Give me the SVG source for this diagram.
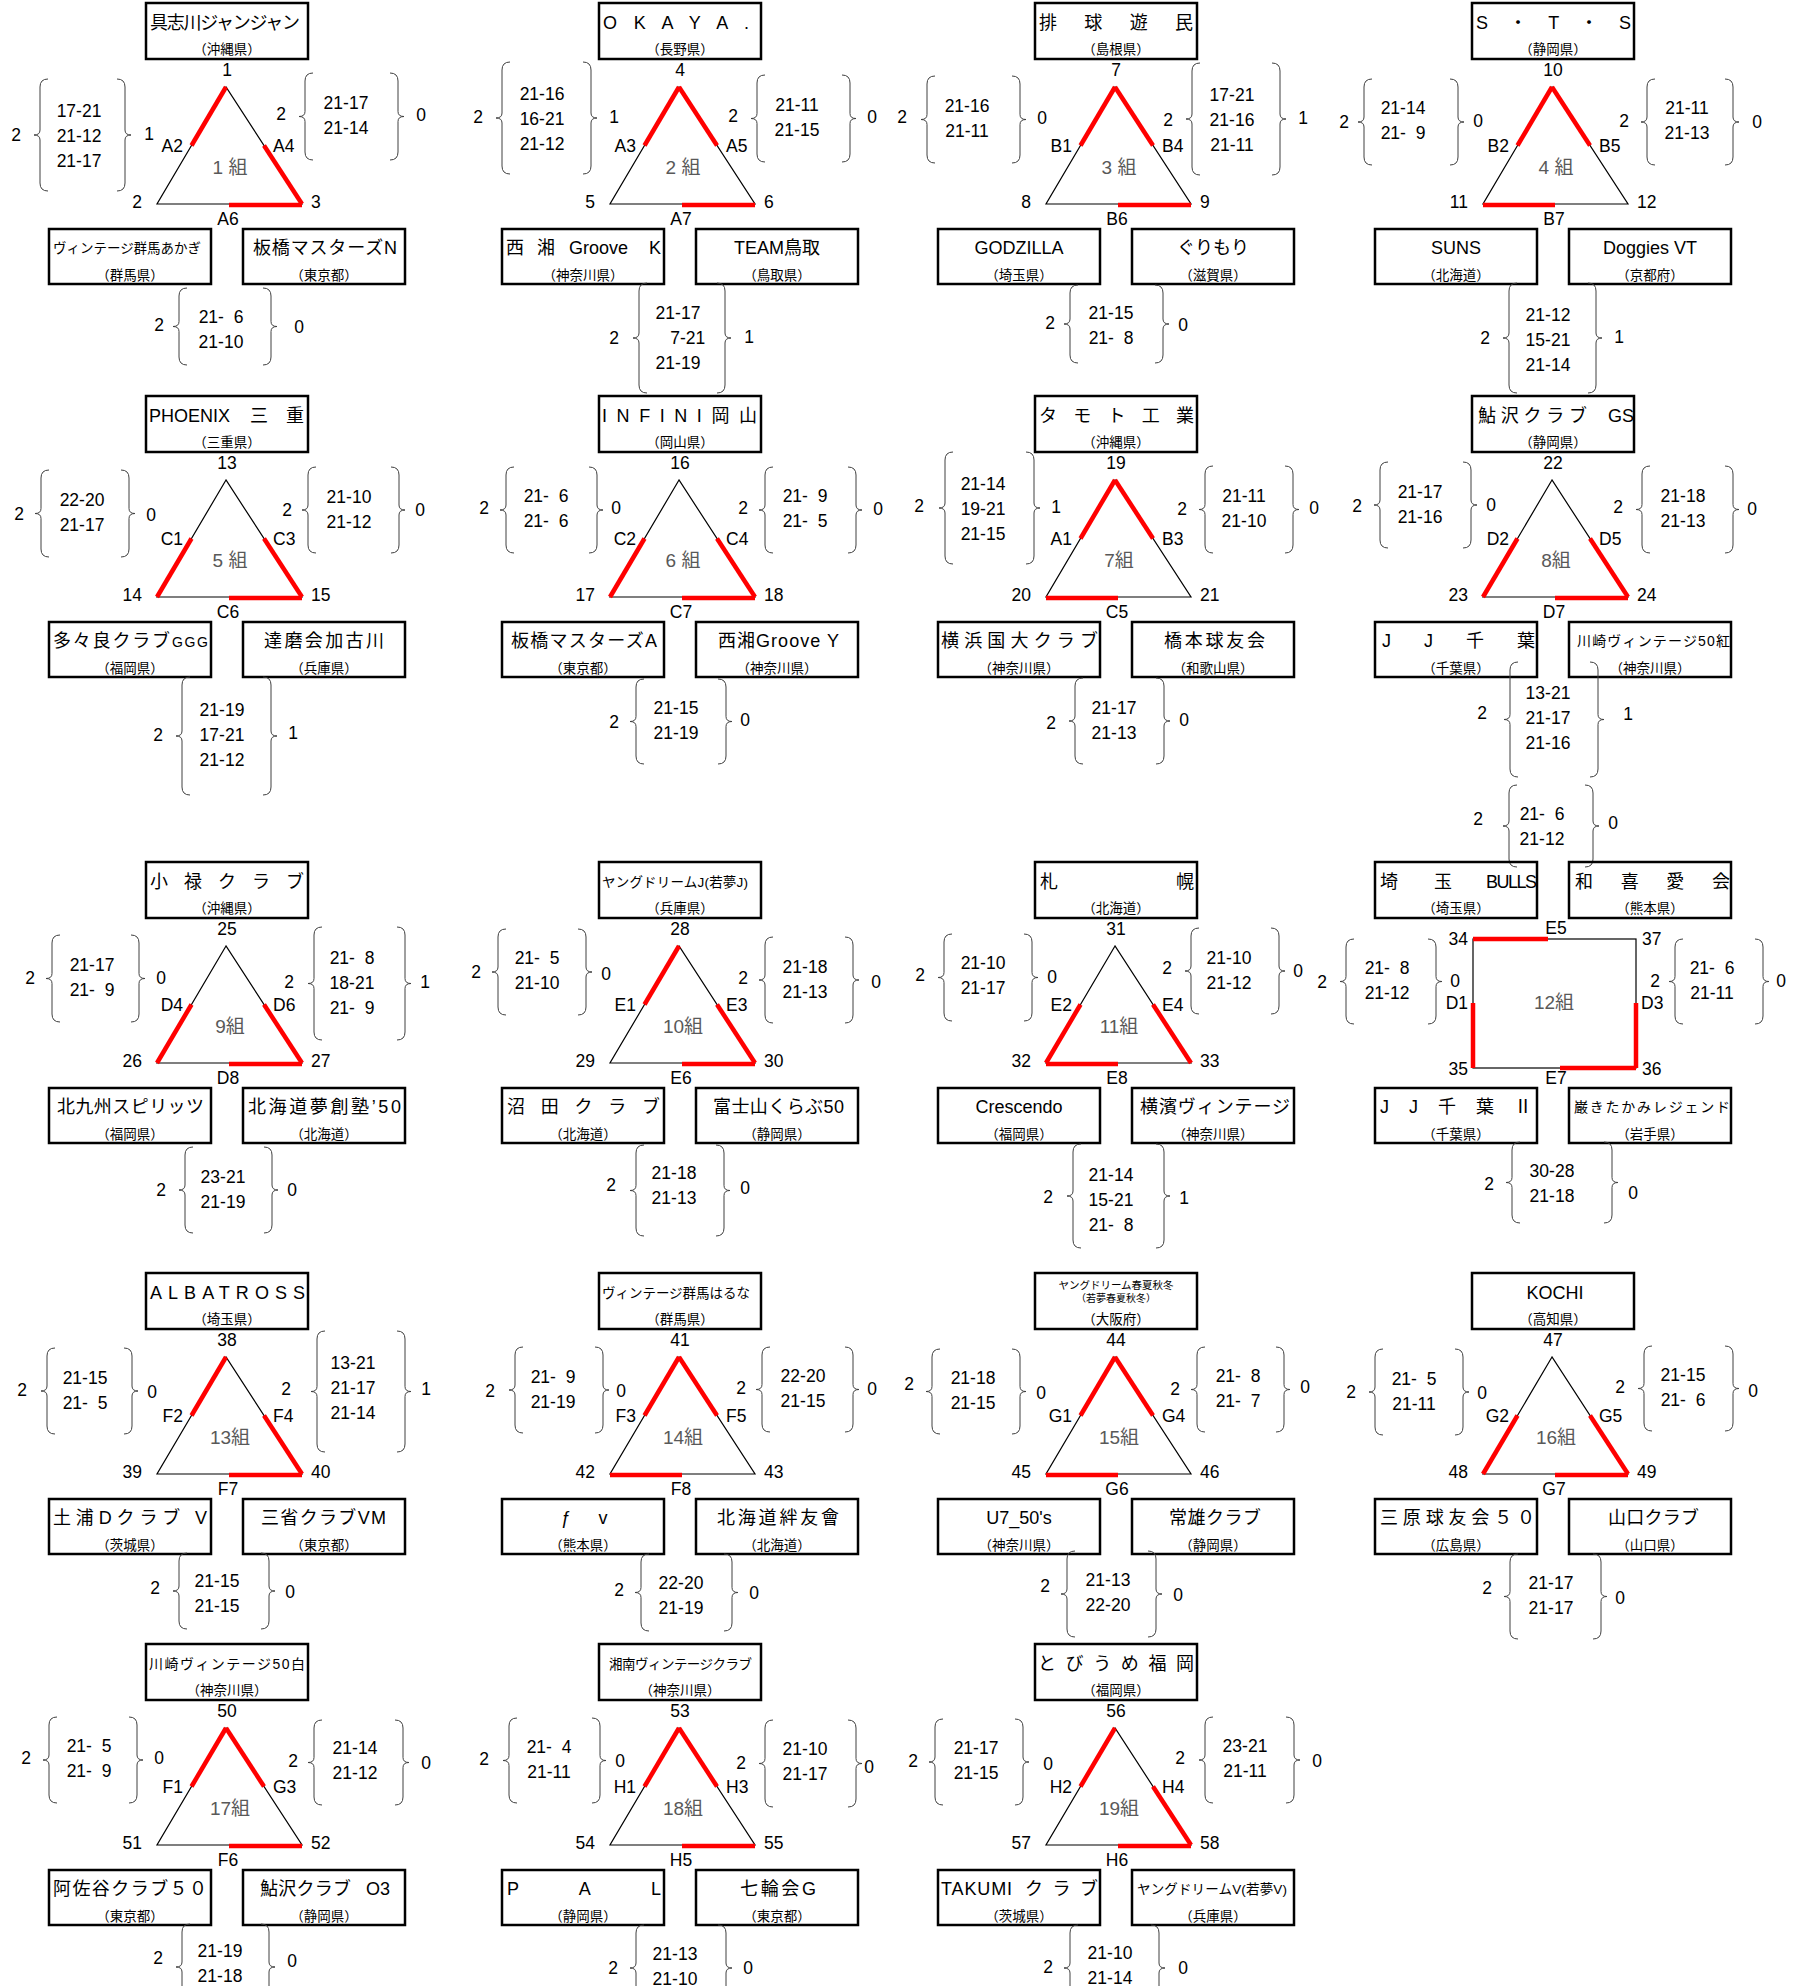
<svg xmlns="http://www.w3.org/2000/svg" xmlns:xlink="http://www.w3.org/1999/xlink" width="1797" height="1986" viewBox="0 0 1797 1986">
<style>
text{font-family:"Liberation Sans","Noto Sans CJK JP",sans-serif;fill:#000}
.nm{font-size:18px}
.sm{font-size:13.5px}
.c{text-anchor:middle}
.pf{font-size:13.5px;text-anchor:middle}
.n{font-size:17.5px;text-anchor:middle}
.e{text-anchor:end}
.s{text-anchor:start}
.gl{font-size:19px;fill:#595959;text-anchor:middle}
.bx{fill:none;stroke:#000;stroke-width:2.5}
.tri{fill:none;stroke:#000;stroke-width:1.2}
.red{fill:none;stroke:#f00;stroke-width:4.5}
.br{fill:none;stroke:#404040;stroke-width:1}
</style>
<defs>
<path id="tri" class="tri" d="M80 84L11 201H156Z"/>
<path id="rTL" class="red" d="M80 84L45.5 142.5"/>
<path id="rBL" class="red" d="M45.5 142.5L11 201"/>
<path id="rTR" class="red" d="M80 84L118 142.5"/>
<path id="rBR" class="red" d="M118 142.5L156 201"/>
<path id="rBl" class="red" d="M11 202H83"/>
<path id="rBr" class="red" d="M83 202H156"/>
</defs>
<rect width="1797" height="1986" fill="#fff"/>

<!-- Pool 1 -->
<g id="pool1" transform="translate(146,3)">
<g id="team1"><rect class="bx" width="162" height="56"/><text class="nm" x="4" y="26" textLength="150">具志川ジャンジャン</text><text class="pf" x="81" y="51">（沖縄県）</text></g>
<g id="team2"><rect class="bx" x="-97" y="226" width="162" height="55"/><text class="sm" x="-93" y="250" textLength="148">ヴィンテージ群馬あかぎ</text><text class="pf" x="-16" y="277">（群馬県）</text></g>
<g id="team3"><rect class="bx" x="97" y="226" width="162" height="55"/><text class="nm" x="107" y="251" textLength="144">板橋マスターズN</text><text class="pf" x="178" y="277">（東京都）</text></g>
<g class="edges"><use href="#tri"/><use href="#rTL"/><use href="#rBR"/><use href="#rBr"/></g>
<text class="n" x="81" y="73">1</text><text class="n e" x="-4" y="205">2</text><text class="n s" x="165" y="205">3</text>
<text class="n e" x="37" y="149">A2</text><text class="n s" x="127" y="149">A4</text><text class="n" x="82" y="222">A6</text>
<text class="gl" x="84" y="171">1 組</text>
<path class="br" d="M-98 76q-8 0-8 8v43q0 5-6 5q6 0 6 5v43q0 8 8 8M-29 76q8 0 8 8v43q0 5 6 5q-6 0-6 5v43q0 8-8 8"/>
<text class="n" x="-67" y="114">17-21</text><text class="n" x="-67" y="139">21-12</text><text class="n" x="-67" y="164">21-17</text>
<text class="n" x="-130" y="138">2</text><text class="n" x="3" y="137">1</text>
<path class="br" d="M167 70q-8 0-8 8v30.5q0 5-6 5q6 0 6 5v30.5q0 8 8 8M244 70q8 0 8 8v30.5q0 5 6 5q-6 0-6 5v30.5q0 8-8 8"/>
<text class="n" x="200" y="106">21-17</text><text class="n" x="200" y="131">21-14</text>
<text class="n" x="135" y="117">2</text><text class="n" x="275" y="118">0</text>
<path class="br" d="M41 285q-8 0-8 8v25.5q0 5-6 5q6 0 6 5v25.5q0 8 8 8M117 285q8 0 8 8v25.5q0 5 6 5q-6 0-6 5v25.5q0 8-8 8"/>
<text class="n" x="75" y="320">21-<tspan dx="9.7">6</tspan></text><text class="n" x="75" y="345">21-10</text>
<text class="n" x="13" y="328">2</text><text class="n" x="153" y="330">0</text>
</g>

<!-- Pool 2 -->
<g id="pool2" transform="translate(599,3)">
<g id="team4"><rect class="bx" width="162" height="56"/><text class="nm" x="4" y="26" textLength="146">O K A Y A .</text><text class="pf" x="81" y="51">（長野県）</text></g>
<g id="team5"><rect class="bx" x="-97" y="226" width="162" height="55"/><text class="nm" x="-93" y="251">西</text><text class="nm" x="-62" y="251">湘</text><text class="nm" x="-30" y="251">Groove</text><text class="nm" x="50" y="251">K</text><text class="pf" x="-16" y="277">（神奈川県）</text></g>
<g id="team6"><rect class="bx" x="97" y="226" width="162" height="55"/><text class="nm c" x="178" y="251">TEAM鳥取</text><text class="pf" x="178" y="277">（鳥取県）</text></g>
<g class="edges"><use href="#tri"/><use href="#rTL"/><use href="#rTR"/><use href="#rBr"/></g>
<text class="n" x="81" y="73">4</text><text class="n e" x="-4" y="205">5</text><text class="n s" x="165" y="205">6</text>
<text class="n e" x="37" y="149">A3</text><text class="n s" x="127" y="149">A5</text><text class="n" x="82" y="222">A7</text>
<text class="gl" x="84" y="171">2 組</text>
<path class="br" d="M-89 59q-8 0-8 8v43q0 5-6 5q6 0 6 5v43q0 8 8 8M-16 59q8 0 8 8v43q0 5 6 5q-6 0-6 5v43q0 8-8 8"/>
<text class="n" x="-57" y="97">21-16</text><text class="n" x="-57" y="122">16-21</text><text class="n" x="-57" y="147">21-12</text>
<text class="n" x="-121" y="120">2</text><text class="n" x="15" y="120">1</text>
<path class="br" d="M166 72q-8 0-8 8v30.5q0 5-6 5q6 0 6 5v30.5q0 8 8 8M243 72q8 0 8 8v30.5q0 5 6 5q-6 0-6 5v30.5q0 8-8 8"/>
<text class="n" x="198" y="108">21-11</text><text class="n" x="198" y="133">21-15</text>
<text class="n" x="134" y="119">2</text><text class="n" x="273" y="120">0</text>
<path class="br" d="M48 280q-8 0-8 8v42q0 5-6 5q6 0 6 5v42q0 8 8 8M118 280q8 0 8 8v42q0 5 6 5q-6 0-6 5v42q0 8-8 8"/>
<text class="n" x="79" y="316">21-17</text><text class="n" x="79" y="341"><tspan dx="9.7">7</tspan>-21</text><text class="n" x="79" y="366">21-19</text>
<text class="n" x="15" y="341">2</text><text class="n" x="150" y="340">1</text>
</g>

<!-- Pool 3 -->
<g id="pool3" transform="translate(1035,3)">
<g id="team7"><rect class="bx" width="162" height="56"/><text class="nm" x="4" y="26" textLength="154">排球遊民</text><text class="pf" x="81" y="51">（島根県）</text></g>
<g id="team8"><rect class="bx" x="-97" y="226" width="162" height="55"/><text class="nm c" x="-16" y="251">GODZILLA</text><text class="pf" x="-16" y="277">（埼玉県）</text></g>
<g id="team9"><rect class="bx" x="97" y="226" width="162" height="55"/><text class="nm c" x="178" y="251">ぐりもり</text><text class="pf" x="178" y="277">（滋賀県）</text></g>
<g class="edges"><use href="#tri"/><use href="#rTL"/><use href="#rTR"/><use href="#rBr"/></g>
<text class="n" x="81" y="73">7</text><text class="n e" x="-4" y="205">8</text><text class="n s" x="165" y="205">9</text>
<text class="n e" x="37" y="149">B1</text><text class="n s" x="127" y="149">B4</text><text class="n" x="82" y="222">B6</text>
<text class="gl" x="84" y="171">3 組</text>
<path class="br" d="M-100 73q-8 0-8 8v30.5q0 5-6 5q6 0 6 5v30.5q0 8 8 8M-23 73q8 0 8 8v30.5q0 5 6 5q-6 0-6 5v30.5q0 8-8 8"/>
<text class="n" x="-68" y="109">21-16</text><text class="n" x="-68" y="134">21-11</text>
<text class="n" x="-133" y="120">2</text><text class="n" x="7" y="121">0</text>
<path class="br" d="M165 60q-8 0-8 8v43q0 5-6 5q6 0 6 5v43q0 8 8 8M237 60q8 0 8 8v43q0 5 6 5q-6 0-6 5v43q0 8-8 8"/>
<text class="n" x="197" y="98">17-21</text><text class="n" x="197" y="123">21-16</text><text class="n" x="197" y="148">21-11</text>
<text class="n" x="133" y="123">2</text><text class="n" x="268" y="121">1</text>
<path class="br" d="M43 282q-8 0-8 8v26q0 5-6 5q6 0 6 5v26q0 8 8 8M120 282q8 0 8 8v26q0 5 6 5q-6 0-6 5v26q0 8-8 8"/>
<text class="n" x="76" y="316">21-15</text><text class="n" x="76" y="341">21-<tspan dx="9.7">8</tspan></text>
<text class="n" x="15" y="326">2</text><text class="n" x="148" y="328">0</text>
</g>

<!-- Pool 4 -->
<g id="pool4" transform="translate(1472,3)">
<g id="team10"><rect class="bx" width="162" height="56"/><text class="nm" x="4" y="26" textLength="155">S　・　T　・　S</text><text class="pf" x="81" y="51">（静岡県）</text></g>
<g id="team11"><rect class="bx" x="-97" y="226" width="162" height="55"/><text class="nm c" x="-16" y="251">SUNS</text><text class="pf" x="-16" y="277">（北海道）</text></g>
<g id="team12"><rect class="bx" x="97" y="226" width="162" height="55"/><text class="nm c" x="178" y="251">Doggies VT</text><text class="pf" x="178" y="277">（京都府）</text></g>
<g class="edges"><use href="#tri"/><use href="#rTL"/><use href="#rTR"/><use href="#rBl"/></g>
<text class="n" x="81" y="73">10</text><text class="n e" x="-4" y="205">11</text><text class="n s" x="165" y="205">12</text>
<text class="n e" x="37" y="149">B2</text><text class="n s" x="127" y="149">B5</text><text class="n" x="82" y="222">B7</text>
<text class="gl" x="84" y="171">4 組</text>
<path class="br" d="M-100 76q-8 0-8 8v30q0 5-6 5q6 0 6 5v30q0 8 8 8M-22 76q8 0 8 8v30q0 5 6 5q-6 0-6 5v30q0 8-8 8"/>
<text class="n" x="-69" y="111">21-14</text><text class="n" x="-69" y="136">21-<tspan dx="9.7">9</tspan></text>
<text class="n" x="-128" y="125">2</text><text class="n" x="6" y="124">0</text>
<path class="br" d="M183 76q-8 0-8 8v30q0 5-6 5q6 0 6 5v30q0 8 8 8M253 76q8 0 8 8v30q0 5 6 5q-6 0-6 5v30q0 8-8 8"/>
<text class="n" x="215" y="111">21-11</text><text class="n" x="215" y="136">21-13</text>
<text class="n" x="152" y="124">2</text><text class="n" x="285" y="125">0</text>
<path class="br" d="M45 280q-8 0-8 8v42q0 5-6 5q6 0 6 5v42q0 8 8 8M116 280q8 0 8 8v42q0 5 6 5q-6 0-6 5v42q0 8-8 8"/>
<text class="n" x="76" y="318">21-12</text><text class="n" x="76" y="343">15-21</text><text class="n" x="76" y="368">21-14</text>
<text class="n" x="13" y="341">2</text><text class="n" x="147" y="340">1</text>
</g>

<!-- Pool 5 -->
<g id="pool5" transform="translate(146,396)">
<g id="team13"><rect class="bx" width="162" height="56"/><text class="nm" x="3" y="26">PHOENIX</text><text class="nm" x="104" y="26">三</text><text class="nm" x="140" y="26">重</text><text class="pf" x="81" y="51">（三重県）</text></g>
<g id="team14"><rect class="bx" x="-97" y="226" width="162" height="55"/><text class="nm" x="-93" y="251" textLength="117">多々良クラブ</text><text class="nm" x="26" y="251" style="font-size:14px" textLength="36">GGG</text><text class="pf" x="-16" y="277">（福岡県）</text></g>
<g id="team15"><rect class="bx" x="97" y="226" width="162" height="55"/><text class="nm" x="118" y="251" textLength="120">達磨会加古川</text><text class="pf" x="178" y="277">（兵庫県）</text></g>
<g class="edges"><use href="#tri"/><use href="#rBL"/><use href="#rBR"/><use href="#rBr"/></g>
<text class="n" x="81" y="73">13</text><text class="n e" x="-4" y="205">14</text><text class="n s" x="165" y="205">15</text>
<text class="n e" x="37" y="149">C1</text><text class="n s" x="127" y="149">C3</text><text class="n" x="82" y="222">C6</text>
<text class="gl" x="84" y="171">5 組</text>
<path class="br" d="M-97 74q-8 0-8 8v30.5q0 5-6 5q6 0 6 5v30.5q0 8 8 8M-25 74q8 0 8 8v30.5q0 5 6 5q-6 0-6 5v30.5q0 8-8 8"/>
<text class="n" x="-64" y="110">22-20</text><text class="n" x="-64" y="135">21-17</text>
<text class="n" x="-127" y="124">2</text><text class="n" x="5" y="125">0</text>
<path class="br" d="M170 71q-8 0-8 8v30q0 5-6 5q6 0 6 5v30q0 8 8 8M245 71q8 0 8 8v30q0 5 6 5q-6 0-6 5v30q0 8-8 8"/>
<text class="n" x="203" y="107">21-10</text><text class="n" x="203" y="132">21-12</text>
<text class="n" x="141" y="120">2</text><text class="n" x="274" y="120">0</text>
<path class="br" d="M44 281q-8 0-8 8v46q0 5-6 5q6 0 6 5v46q0 8 8 8M117 281q8 0 8 8v46q0 5 6 5q-6 0-6 5v46q0 8-8 8"/>
<text class="n" x="76" y="320">21-19</text><text class="n" x="76" y="345">17-21</text><text class="n" x="76" y="370">21-12</text>
<text class="n" x="12" y="345">2</text><text class="n" x="147" y="343">1</text>
</g>

<!-- Pool 6 -->
<g id="pool6" transform="translate(599,396)">
<g id="team16"><rect class="bx" width="162" height="56"/><text class="nm" x="3" y="26" textLength="155">INFINI岡山</text><text class="pf" x="81" y="51">（岡山県）</text></g>
<g id="team17"><rect class="bx" x="-97" y="226" width="162" height="55"/><text class="nm" x="-88" y="251" textLength="146">板橋マスターズA</text><text class="pf" x="-16" y="277">（東京都）</text></g>
<g id="team18"><rect class="bx" x="97" y="226" width="162" height="55"/><text class="nm" x="119" y="251" textLength="121">西湘Groove Y</text><text class="pf" x="178" y="277">（神奈川県）</text></g>
<g class="edges"><use href="#tri"/><use href="#rBL"/><use href="#rBR"/><use href="#rBr"/></g>
<text class="n" x="81" y="73">16</text><text class="n e" x="-4" y="205">17</text><text class="n s" x="165" y="205">18</text>
<text class="n e" x="37" y="149">C2</text><text class="n s" x="127" y="149">C4</text><text class="n" x="82" y="222">C7</text>
<text class="gl" x="84" y="171">6 組</text>
<path class="br" d="M-85 71q-8 0-8 8v30q0 5-6 5q6 0 6 5v30q0 8 8 8M-10 71q8 0 8 8v30q0 5 6 5q-6 0-6 5v30q0 8-8 8"/>
<text class="n" x="-53" y="106">21-<tspan dx="9.7">6</tspan></text><text class="n" x="-53" y="131">21-<tspan dx="9.7">6</tspan></text>
<text class="n" x="-115" y="118">2</text><text class="n" x="17" y="118">0</text>
<path class="br" d="M174 71q-8 0-8 8v30q0 5-6 5q6 0 6 5v30q0 8 8 8M249 71q8 0 8 8v30q0 5 6 5q-6 0-6 5v30q0 8-8 8"/>
<text class="n" x="206" y="106">21-<tspan dx="9.7">9</tspan></text><text class="n" x="206" y="131">21-<tspan dx="9.7">5</tspan></text>
<text class="n" x="144" y="118">2</text><text class="n" x="279" y="119">0</text>
<path class="br" d="M45 283q-8 0-8 8v29.5q0 5-6 5q6 0 6 5v29.5q0 8 8 8M119 283q8 0 8 8v29.5q0 5 6 5q-6 0-6 5v29.5q0 8-8 8"/>
<text class="n" x="77" y="318">21-15</text><text class="n" x="77" y="343">21-19</text>
<text class="n" x="15" y="332">2</text><text class="n" x="146" y="330">0</text>
</g>

<!-- Pool 7 -->
<g id="pool7" transform="translate(1035,396)">
<g id="team19"><rect class="bx" width="162" height="56"/><text class="nm" x="4" y="26" textLength="155">タモト工業</text><text class="pf" x="81" y="51">（沖縄県）</text></g>
<g id="team20"><rect class="bx" x="-97" y="226" width="162" height="55"/><text class="nm" x="-94" y="251" textLength="157">横浜国大クラブ</text><text class="pf" x="-16" y="277">（神奈川県）</text></g>
<g id="team21"><rect class="bx" x="97" y="226" width="162" height="55"/><text class="nm" x="129" y="251" textLength="101">橋本球友会</text><text class="pf" x="178" y="277">（和歌山県）</text></g>
<g class="edges"><use href="#tri"/><use href="#rTL"/><use href="#rTR"/><use href="#rBl"/></g>
<text class="n" x="81" y="73">19</text><text class="n e" x="-4" y="205">20</text><text class="n s" x="165" y="205">21</text>
<text class="n e" x="37" y="149">A1</text><text class="n s" x="127" y="149">B3</text><text class="n" x="82" y="222">C5</text>
<text class="gl" x="84" y="171">7組</text>
<path class="br" d="M-82 56q-8 0-8 8v43q0 5-6 5q6 0 6 5v43q0 8 8 8M-9 56q8 0 8 8v43q0 5 6 5q-6 0-6 5v43q0 8-8 8"/>
<text class="n" x="-52" y="94">21-14</text><text class="n" x="-52" y="119">19-21</text><text class="n" x="-52" y="144">21-15</text>
<text class="n" x="-116" y="116">2</text><text class="n" x="21" y="117">1</text>
<path class="br" d="M178 70q-8 0-8 8v30.5q0 5-6 5q6 0 6 5v30.5q0 8 8 8M250 70q8 0 8 8v30.5q0 5 6 5q-6 0-6 5v30.5q0 8-8 8"/>
<text class="n" x="209" y="106">21-11</text><text class="n" x="209" y="131">21-10</text>
<text class="n" x="147" y="119">2</text><text class="n" x="279" y="118">0</text>
<path class="br" d="M48 282q-8 0-8 8v30q0 5-6 5q6 0 6 5v30q0 8 8 8M121 282q8 0 8 8v30q0 5 6 5q-6 0-6 5v30q0 8-8 8"/>
<text class="n" x="79" y="318">21-17</text><text class="n" x="79" y="343">21-13</text>
<text class="n" x="16" y="333">2</text><text class="n" x="149" y="330">0</text>
</g>

<!-- Pool 8 -->
<g id="pool8" transform="translate(1472,396)">
<g id="team22"><rect class="bx" width="162" height="56"/><text class="nm" x="6" y="26" textLength="109">鮎沢クラブ</text><text class="nm" x="136" y="26">GS</text><text class="pf" x="81" y="51">（静岡県）</text></g>
<g id="team23"><rect class="bx" x="-97" y="226" width="162" height="55"/><text class="nm" x="-90" y="251" textLength="153">J J 千 葉</text><text class="pf" x="-16" y="277">（千葉県）</text></g>
<g id="team24"><rect class="bx" x="97" y="226" width="162" height="55"/><text class="nm" x="105" y="250" style="font-size:14px" textLength="153">川崎ヴィンテージ50紅</text><text class="pf" x="178" y="277">（神奈川県）</text></g>
<g class="edges"><use href="#tri"/><use href="#rBL"/><use href="#rBR"/><use href="#rBr"/></g>
<text class="n" x="81" y="73">22</text><text class="n e" x="-4" y="205">23</text><text class="n s" x="165" y="205">24</text>
<text class="n e" x="37" y="149">D2</text><text class="n s" x="127" y="149">D5</text><text class="n" x="82" y="222">D7</text>
<text class="gl" x="84" y="171">8組</text>
<path class="br" d="M-84 66q-8 0-8 8v30q0 5-6 5q6 0 6 5v30q0 8 8 8M-9 66q8 0 8 8v30q0 5 6 5q-6 0-6 5v30q0 8-8 8"/>
<text class="n" x="-52" y="102">21-17</text><text class="n" x="-52" y="127">21-16</text>
<text class="n" x="-115" y="116">2</text><text class="n" x="19" y="115">0</text>
<path class="br" d="M178 70q-8 0-8 8v30.5q0 5-6 5q6 0 6 5v30.5q0 8 8 8M253 70q8 0 8 8v30.5q0 5 6 5q-6 0-6 5v30.5q0 8-8 8"/>
<text class="n" x="211" y="106">21-18</text><text class="n" x="211" y="131">21-13</text>
<text class="n" x="146" y="117">2</text><text class="n" x="280" y="119">0</text>
<path class="br" d="M46 266q-8 0-8 8v44.5q0 5-6 5q6 0 6 5v44.5q0 8 8 8M118 266q8 0 8 8v44.5q0 5 6 5q-6 0-6 5v44.5q0 8-8 8"/>
<text class="n" x="76" y="303">13-21</text><text class="n" x="76" y="328">21-17</text><text class="n" x="76" y="353">21-16</text>
<text class="n" x="10" y="323">2</text><text class="n" x="156" y="324">1</text>
<path class="br" d="M45 389q-8 0-8 8v28q0 5-6 5q6 0 6 5v28q0 8 8 8M113 389q8 0 8 8v28q0 5 6 5q-6 0-6 5v28q0 8-8 8"/>
<text class="n" x="70" y="424">21-<tspan dx="9.7">6</tspan></text><text class="n" x="70" y="449">21-12</text>
<text class="n" x="6" y="429">2</text><text class="n" x="141" y="433">0</text>
</g>

<!-- Pool 9 -->
<g id="pool9" transform="translate(146,862)">
<g id="team25"><rect class="bx" width="162" height="56"/><text class="nm" x="4" y="26" textLength="154">小禄クラブ</text><text class="pf" x="81" y="51">（沖縄県）</text></g>
<g id="team26"><rect class="bx" x="-97" y="226" width="162" height="55"/><text class="nm" x="-89" y="251" textLength="147">北九州スピリッツ</text><text class="pf" x="-16" y="277">（福岡県）</text></g>
<g id="team27"><rect class="bx" x="97" y="226" width="162" height="55"/><text class="nm" x="102" y="251" textLength="153">北海道夢創塾’50</text><text class="pf" x="178" y="277">（北海道）</text></g>
<g class="edges"><use href="#tri"/><use href="#rBL"/><use href="#rBR"/><use href="#rBr"/></g>
<text class="n" x="81" y="73">25</text><text class="n e" x="-4" y="205">26</text><text class="n s" x="165" y="205">27</text>
<text class="n e" x="37" y="149">D4</text><text class="n s" x="127" y="149">D6</text><text class="n" x="82" y="222">D8</text>
<text class="gl" x="84" y="171">9組</text>
<path class="br" d="M-86 73q-8 0-8 8v30.5q0 5-6 5q6 0 6 5v30.5q0 8 8 8M-15 73q8 0 8 8v30.5q0 5 6 5q-6 0-6 5v30.5q0 8-8 8"/>
<text class="n" x="-54" y="109">21-17</text><text class="n" x="-54" y="134">21-<tspan dx="9.7">9</tspan></text>
<text class="n" x="-116" y="122">2</text><text class="n" x="15" y="122">0</text>
<path class="br" d="M176 65q-8 0-8 8v43.5q0 5-6 5q6 0 6 5v43.5q0 8 8 8M251 65q8 0 8 8v43.5q0 5 6 5q-6 0-6 5v43.5q0 8-8 8"/>
<text class="n" x="206" y="102">21-<tspan dx="9.7">8</tspan></text><text class="n" x="206" y="127">18-21</text><text class="n" x="206" y="152">21-<tspan dx="9.7">9</tspan></text>
<text class="n" x="143" y="126">2</text><text class="n" x="279" y="126">1</text>
<path class="br" d="M47 285q-8 0-8 8v30q0 5-6 5q6 0 6 5v30q0 8 8 8M118 285q8 0 8 8v30q0 5 6 5q-6 0-6 5v30q0 8-8 8"/>
<text class="n" x="77" y="321">23-21</text><text class="n" x="77" y="346">21-19</text>
<text class="n" x="15" y="334">2</text><text class="n" x="146" y="334">0</text>
</g>

<!-- Pool 10 -->
<g id="pool10" transform="translate(599,862)">
<g id="team28"><rect class="bx" width="162" height="56"/><text class="sm" x="3" y="25" textLength="146">ヤングドリームJ(若夢J)</text><text class="pf" x="81" y="51">（兵庫県）</text></g>
<g id="team29"><rect class="bx" x="-97" y="226" width="162" height="55"/><text class="nm" x="-92" y="251" textLength="153">沼田クラブ</text><text class="pf" x="-16" y="277">（北海道）</text></g>
<g id="team30"><rect class="bx" x="97" y="226" width="162" height="55"/><text class="nm" x="114" y="251" textLength="131">富士山くらぶ50</text><text class="pf" x="178" y="277">（静岡県）</text></g>
<g class="edges"><use href="#tri"/><use href="#rTL"/><use href="#rBR"/><use href="#rBr"/></g>
<text class="n" x="81" y="73">28</text><text class="n e" x="-4" y="205">29</text><text class="n s" x="165" y="205">30</text>
<text class="n e" x="37" y="149">E1</text><text class="n s" x="127" y="149">E3</text><text class="n" x="82" y="222">E6</text>
<text class="gl" x="84" y="171">10組</text>
<path class="br" d="M-93 67q-8 0-8 8v30q0 5-6 5q6 0 6 5v30q0 8 8 8M-21 67q8 0 8 8v30q0 5 6 5q-6 0-6 5v30q0 8-8 8"/>
<text class="n" x="-62" y="102">21-<tspan dx="9.7">5</tspan></text><text class="n" x="-62" y="127">21-10</text>
<text class="n" x="-123" y="116">2</text><text class="n" x="7" y="118">0</text>
<path class="br" d="M174 75q-8 0-8 8v30q0 5-6 5q6 0 6 5v30q0 8 8 8M246 75q8 0 8 8v30q0 5 6 5q-6 0-6 5v30q0 8-8 8"/>
<text class="n" x="206" y="111">21-18</text><text class="n" x="206" y="136">21-13</text>
<text class="n" x="144" y="122">2</text><text class="n" x="277" y="126">0</text>
<path class="br" d="M45 283q-8 0-8 8v32.5q0 5-6 5q6 0 6 5v32.5q0 8 8 8M117 283q8 0 8 8v32.5q0 5 6 5q-6 0-6 5v32.5q0 8-8 8"/>
<text class="n" x="75" y="317">21-18</text><text class="n" x="75" y="342">21-13</text>
<text class="n" x="12" y="329">2</text><text class="n" x="146" y="332">0</text>
</g>

<!-- Pool 11 -->
<g id="pool11" transform="translate(1035,862)">
<g id="team31"><rect class="bx" width="162" height="56"/><text class="nm" x="5" y="26">札</text><text class="nm" x="141" y="26">幌</text><text class="pf" x="81" y="51">（北海道）</text></g>
<g id="team32"><rect class="bx" x="-97" y="226" width="162" height="55"/><text class="nm c" x="-16" y="251">Crescendo</text><text class="pf" x="-16" y="277">（福岡県）</text></g>
<g id="team33"><rect class="bx" x="97" y="226" width="162" height="55"/><text class="nm" x="105" y="251" textLength="150">横濱ヴィンテージ</text><text class="pf" x="178" y="277">（神奈川県）</text></g>
<g class="edges"><use href="#tri"/><use href="#rBL"/><use href="#rBR"/><use href="#rBl"/></g>
<text class="n" x="81" y="73">31</text><text class="n e" x="-4" y="205">32</text><text class="n s" x="165" y="205">33</text>
<text class="n e" x="37" y="149">E2</text><text class="n s" x="127" y="149">E4</text><text class="n" x="82" y="222">E8</text>
<text class="gl" x="84" y="171">11組</text>
<path class="br" d="M-83 72q-8 0-8 8v30.5q0 5-6 5q6 0 6 5v30.5q0 8 8 8M-11 72q8 0 8 8v30.5q0 5 6 5q-6 0-6 5v30.5q0 8-8 8"/>
<text class="n" x="-52" y="107">21-10</text><text class="n" x="-52" y="132">21-17</text>
<text class="n" x="-115" y="119">2</text><text class="n" x="17" y="121">0</text>
<path class="br" d="M164 66q-8 0-8 8v30q0 5-6 5q6 0 6 5v30q0 8 8 8M236 66q8 0 8 8v30q0 5 6 5q-6 0-6 5v30q0 8-8 8"/>
<text class="n" x="194" y="102">21-10</text><text class="n" x="194" y="127">21-12</text>
<text class="n" x="132" y="112">2</text><text class="n" x="263" y="115">0</text>
<path class="br" d="M46 282q-8 0-8 8v39q0 5-6 5q6 0 6 5v39q0 8 8 8M121 282q8 0 8 8v39q0 5 6 5q-6 0-6 5v39q0 8-8 8"/>
<text class="n" x="76" y="319">21-14</text><text class="n" x="76" y="344">15-21</text><text class="n" x="76" y="369">21-<tspan dx="9.7">8</tspan></text>
<text class="n" x="13" y="341">2</text><text class="n" x="149" y="342">1</text>
</g>

<!-- Pool 12 -->
<g id="pool12" transform="translate(1472,862)">
<g id="team34"><rect class="bx" x="-97" y="0" width="162" height="56"/><text class="nm" x="-92" y="26">埼</text><text class="nm" x="-38" y="26">玉</text><text class="nm" x="14" y="26" textLength="51">BULLS</text><text class="pf" x="-16" y="51">（埼玉県）</text></g>
<g id="team37"><rect class="bx" x="97" y="0" width="162" height="56"/><text class="nm" x="103" y="26" textLength="155">和喜愛会</text><text class="pf" x="178" y="51">（熊本県）</text></g>
<g id="team35"><rect class="bx" x="-97" y="226" width="162" height="55"/><text class="nm" x="-92" y="251" textLength="152">J J 千 葉 Ⅱ</text><text class="pf" x="-16" y="277">（千葉県）</text></g>
<g id="team36"><rect class="bx" x="97" y="226" width="162" height="55"/><text class="nm" x="102" y="250" style="font-size:14px" textLength="156">巌きたかみレジェンド</text><text class="pf" x="178" y="277">（岩手県）</text></g>
<g class="edges"><rect class="tri" x="1" y="77" width="163" height="129"/><path class="red" d="M1 77H76M1 141V206M164 141V206M88 206H164"/></g>
<text class="n e" x="-4" y="83">34</text><text class="n s" x="170" y="83">37</text><text class="n e" x="-4" y="213">35</text><text class="n s" x="170" y="213">36</text>
<text class="n" x="84" y="72">E5</text><text class="n" x="84" y="222">E7</text><text class="n e" x="-4" y="147">D1</text><text class="n s" x="169" y="147">D3</text>
<text class="gl" x="82" y="147">12組</text>
<path class="br" d="M-118 77q-8 0-8 8v29.5q0 5-6 5q6 0 6 5v29.5q0 8 8 8M-44 77q8 0 8 8v29.5q0 5 6 5q-6 0-6 5v29.5q0 8-8 8"/>
<text class="n" x="-85" y="112">21-<tspan dx="9.7">8</tspan></text><text class="n" x="-85" y="137">21-12</text>
<text class="n" x="-150" y="126">2</text><text class="n" x="-17" y="125">0</text>
<path class="br" d="M211 77q-8 0-8 8v29.5q0 5-6 5q6 0 6 5v29.5q0 8 8 8M283 77q8 0 8 8v29.5q0 5 6 5q-6 0-6 5v29.5q0 8-8 8"/>
<text class="n" x="240" y="112">21-<tspan dx="9.7">6</tspan></text><text class="n" x="240" y="137">21-11</text>
<text class="n" x="183" y="125">2</text><text class="n" x="309" y="125">0</text>
<path class="br" d="M48 280q-8 0-8 8v27.5q0 5-6 5q6 0 6 5v27.5q0 8 8 8M132 280q8 0 8 8v27.5q0 5 6 5q-6 0-6 5v27.5q0 8-8 8"/>
<text class="n" x="80" y="315">30-28</text><text class="n" x="80" y="340">21-18</text>
<text class="n" x="17" y="328">2</text><text class="n" x="161" y="337">0</text>
</g>

<!-- Pool 13 -->
<g id="pool13" transform="translate(146,1273)">
<g id="team38"><rect class="bx" width="162" height="56"/><text class="nm" x="4" y="26" textLength="155">ALBATROSS</text><text class="pf" x="81" y="51">（埼玉県）</text></g>
<g id="team39"><rect class="bx" x="-97" y="226" width="162" height="55"/><text class="nm" x="-93" y="251" textLength="154">土浦Dクラブ V</text><text class="pf" x="-16" y="277">（茨城県）</text></g>
<g id="team40"><rect class="bx" x="97" y="226" width="162" height="55"/><text class="nm" x="115" y="251" textLength="125">三省クラブVM</text><text class="pf" x="178" y="277">（東京都）</text></g>
<g class="edges"><use href="#tri"/><use href="#rTL"/><use href="#rBR"/><use href="#rBr"/></g>
<text class="n" x="81" y="73">38</text><text class="n e" x="-4" y="205">39</text><text class="n s" x="165" y="205">40</text>
<text class="n e" x="37" y="149">F2</text><text class="n s" x="127" y="149">F4</text><text class="n" x="82" y="222">F7</text>
<text class="gl" x="84" y="171">13組</text>
<path class="br" d="M-91 75q-8 0-8 8v30q0 5-6 5q6 0 6 5v30q0 8 8 8M-22 75q8 0 8 8v30q0 5 6 5q-6 0-6 5v30q0 8-8 8"/>
<text class="n" x="-61" y="111">21-15</text><text class="n" x="-61" y="136">21-<tspan dx="9.7">5</tspan></text>
<text class="n" x="-124" y="123">2</text><text class="n" x="6" y="125">0</text>
<path class="br" d="M179 58q-8 0-8 8v47.5q0 5-6 5q6 0 6 5v47.5q0 8 8 8M251 58q8 0 8 8v47.5q0 5 6 5q-6 0-6 5v47.5q0 8-8 8"/>
<text class="n" x="207" y="96">13-21</text><text class="n" x="207" y="121">21-17</text><text class="n" x="207" y="146">21-14</text>
<text class="n" x="140" y="122">2</text><text class="n" x="280" y="122">1</text>
<path class="br" d="M41 280q-8 0-8 8v25q0 5-6 5q6 0 6 5v25q0 8 8 8M115 280q8 0 8 8v25q0 5 6 5q-6 0-6 5v25q0 8-8 8"/>
<text class="n" x="71" y="314">21-15</text><text class="n" x="71" y="339">21-15</text>
<text class="n" x="9" y="321">2</text><text class="n" x="144" y="325">0</text>
</g>

<!-- Pool 14 -->
<g id="pool14" transform="translate(599,1273)">
<g id="team41"><rect class="bx" width="162" height="56"/><text class="sm" x="3" y="25" textLength="148">ヴィンテージ群馬はるな</text><text class="pf" x="81" y="51">（群馬県）</text></g>
<g id="team42"><rect class="bx" x="-97" y="226" width="162" height="55"/><text class="nm c" x="-33" y="251">ƒ</text><text class="nm c" x="4" y="251">v</text><text class="pf" x="-16" y="277">（熊本県）</text></g>
<g id="team43"><rect class="bx" x="97" y="226" width="162" height="55"/><text class="nm" x="118" y="251" textLength="122">北海道絆友會</text><text class="pf" x="178" y="277">（北海道）</text></g>
<g class="edges"><use href="#tri"/><use href="#rTL"/><use href="#rTR"/><use href="#rBl"/></g>
<text class="n" x="81" y="73">41</text><text class="n e" x="-4" y="205">42</text><text class="n s" x="165" y="205">43</text>
<text class="n e" x="37" y="149">F3</text><text class="n s" x="127" y="149">F5</text><text class="n" x="82" y="222">F8</text>
<text class="gl" x="84" y="171">14組</text>
<path class="br" d="M-76 74q-8 0-8 8v30q0 5-6 5q6 0 6 5v30q0 8 8 8M-4 74q8 0 8 8v30q0 5 6 5q-6 0-6 5v30q0 8-8 8"/>
<text class="n" x="-46" y="110">21-<tspan dx="9.7">9</tspan></text><text class="n" x="-46" y="135">21-19</text>
<text class="n" x="-109" y="124">2</text><text class="n" x="22" y="124">0</text>
<path class="br" d="M171 74q-8 0-8 8v29.5q0 5-6 5q6 0 6 5v29.5q0 8 8 8M246 74q8 0 8 8v29.5q0 5 6 5q-6 0-6 5v29.5q0 8-8 8"/>
<text class="n" x="204" y="109">22-20</text><text class="n" x="204" y="134">21-15</text>
<text class="n" x="142" y="121">2</text><text class="n" x="273" y="122">0</text>
<path class="br" d="M50 281q-8 0-8 8v25.5q0 5-6 5q6 0 6 5v25.5q0 8 8 8M125 281q8 0 8 8v25.5q0 5 6 5q-6 0-6 5v25.5q0 8-8 8"/>
<text class="n" x="82" y="316">22-20</text><text class="n" x="82" y="341">21-19</text>
<text class="n" x="20" y="323">2</text><text class="n" x="155" y="326">0</text>
</g>

<!-- Pool 15 -->
<g id="pool15" transform="translate(1035,1273)">
<g id="team44"><rect class="bx" width="162" height="56"/><text class="c" x="81" y="16" style="font-size:10.5px">ヤングドリーム春夏秋冬</text><text class="c" x="81" y="29" style="font-size:10px">（若夢春夏秋冬）</text><text class="pf" x="81" y="51">（大阪府）</text></g>
<g id="team45"><rect class="bx" x="-97" y="226" width="162" height="55"/><text class="nm c" x="-16" y="251">U7_50's</text><text class="pf" x="-16" y="277">（神奈川県）</text></g>
<g id="team46"><rect class="bx" x="97" y="226" width="162" height="55"/><text class="nm" x="134" y="251" textLength="92">常雄クラブ</text><text class="pf" x="178" y="277">（静岡県）</text></g>
<g class="edges"><use href="#tri"/><use href="#rTL"/><use href="#rTR"/><use href="#rBl"/></g>
<text class="n" x="81" y="73">44</text><text class="n e" x="-4" y="205">45</text><text class="n s" x="165" y="205">46</text>
<text class="n e" x="37" y="149">G1</text><text class="n s" x="127" y="149">G4</text><text class="n" x="82" y="222">G6</text>
<text class="gl" x="84" y="171">15組</text>
<path class="br" d="M-95 76q-8 0-8 8v29.5q0 5-6 5q6 0 6 5v29.5q0 8 8 8M-23 76q8 0 8 8v29.5q0 5 6 5q-6 0-6 5v29.5q0 8-8 8"/>
<text class="n" x="-62" y="111">21-18</text><text class="n" x="-62" y="136">21-15</text>
<text class="n" x="-126" y="117">2</text><text class="n" x="6" y="126">0</text>
<path class="br" d="M170 74q-8 0-8 8v29.5q0 5-6 5q6 0 6 5v29.5q0 8 8 8M241 74q8 0 8 8v29.5q0 5 6 5q-6 0-6 5v29.5q0 8-8 8"/>
<text class="n" x="203" y="109">21-<tspan dx="9.7">8</tspan></text><text class="n" x="203" y="134">21-<tspan dx="9.7">7</tspan></text>
<text class="n" x="140" y="122">2</text><text class="n" x="270" y="120">0</text>
<path class="br" d="M40 278q-8 0-8 8v30q0 5-6 5q6 0 6 5v30q0 8 8 8M113 278q8 0 8 8v30q0 5 6 5q-6 0-6 5v30q0 8-8 8"/>
<text class="n" x="73" y="313">21-13</text><text class="n" x="73" y="338">22-20</text>
<text class="n" x="10" y="319">2</text><text class="n" x="143" y="328">0</text>
</g>

<!-- Pool 16 -->
<g id="pool16" transform="translate(1472,1273)">
<g id="team47"><rect class="bx" width="162" height="56"/><text class="nm c" x="83" y="26">KOCHI</text><text class="pf" x="81" y="51">（高知県）</text></g>
<g id="team48"><rect class="bx" x="-97" y="226" width="162" height="55"/><text class="nm" x="-92" y="251" textLength="155">三原球友会５０</text><text class="pf" x="-16" y="277">（広島県）</text></g>
<g id="team49"><rect class="bx" x="97" y="226" width="162" height="55"/><text class="nm" x="136" y="251" textLength="91">山口クラブ</text><text class="pf" x="178" y="277">（山口県）</text></g>
<g class="edges"><use href="#tri"/><use href="#rBL"/><use href="#rBR"/><use href="#rBr"/></g>
<text class="n" x="81" y="73">47</text><text class="n e" x="-4" y="205">48</text><text class="n s" x="165" y="205">49</text>
<text class="n e" x="37" y="149">G2</text><text class="n s" x="127" y="149">G5</text><text class="n" x="82" y="222">G7</text>
<text class="gl" x="84" y="171">16組</text>
<path class="br" d="M-89 76q-8 0-8 8v30q0 5-6 5q6 0 6 5v30q0 8 8 8M-17 76q8 0 8 8v30q0 5 6 5q-6 0-6 5v30q0 8-8 8"/>
<text class="n" x="-58" y="112">21-<tspan dx="9.7">5</tspan></text><text class="n" x="-58" y="137">21-11</text>
<text class="n" x="-121" y="125">2</text><text class="n" x="10" y="126">0</text>
<path class="br" d="M180 73q-8 0-8 8v29.5q0 5-6 5q6 0 6 5v29.5q0 8 8 8M253 73q8 0 8 8v29.5q0 5 6 5q-6 0-6 5v29.5q0 8-8 8"/>
<text class="n" x="211" y="108">21-15</text><text class="n" x="211" y="133">21-<tspan dx="9.7">6</tspan></text>
<text class="n" x="148" y="120">2</text><text class="n" x="281" y="124">0</text>
<path class="br" d="M46 281q-8 0-8 8v29.5q0 5-6 5q6 0 6 5v29.5q0 8 8 8M121 281q8 0 8 8v29.5q0 5 6 5q-6 0-6 5v29.5q0 8-8 8"/>
<text class="n" x="79" y="316">21-17</text><text class="n" x="79" y="341">21-17</text>
<text class="n" x="15" y="321">2</text><text class="n" x="148" y="331">0</text>
</g>

<!-- Pool 17 -->
<g id="pool17" transform="translate(146,1644)">
<g id="team50"><rect class="bx" width="162" height="56"/><text class="nm" x="3" y="25" style="font-size:14px" textLength="156">川崎ヴィンテージ50白</text><text class="pf" x="81" y="51">（神奈川県）</text></g>
<g id="team51"><rect class="bx" x="-97" y="226" width="162" height="55"/><text class="nm" x="-93" y="251" textLength="154">阿佐谷クラブ５０</text><text class="pf" x="-16" y="277">（東京都）</text></g>
<g id="team52"><rect class="bx" x="97" y="226" width="162" height="55"/><text class="nm" x="114" y="251" textLength="91">鮎沢クラブ</text><text class="nm" x="220" y="251">O3</text><text class="pf" x="178" y="277">（静岡県）</text></g>
<g class="edges"><use href="#tri"/><use href="#rTL"/><use href="#rTR"/><use href="#rBr"/></g>
<text class="n" x="81" y="73">50</text><text class="n e" x="-4" y="205">51</text><text class="n s" x="165" y="205">52</text>
<text class="n e" x="37" y="149">F1</text><text class="n s" x="127" y="149">G3</text><text class="n" x="82" y="222">F6</text>
<text class="gl" x="84" y="171">17組</text>
<path class="br" d="M-89 73q-8 0-8 8v30q0 5-6 5q6 0 6 5v30q0 8 8 8M-17 73q8 0 8 8v30q0 5 6 5q-6 0-6 5v30q0 8-8 8"/>
<text class="n" x="-57" y="108">21-<tspan dx="9.7">5</tspan></text><text class="n" x="-57" y="133">21-<tspan dx="9.7">9</tspan></text>
<text class="n" x="-120" y="120">2</text><text class="n" x="13" y="120">0</text>
<path class="br" d="M176 76q-8 0-8 8v29.5q0 5-6 5q6 0 6 5v29.5q0 8 8 8M249 76q8 0 8 8v29.5q0 5 6 5q-6 0-6 5v29.5q0 8-8 8"/>
<text class="n" x="209" y="110">21-14</text><text class="n" x="209" y="135">21-12</text>
<text class="n" x="147" y="123">2</text><text class="n" x="280" y="125">0</text>
<path class="br" d="M44 280q-8 0-8 8v30q0 5-6 5q6 0 6 5v30q0 8 8 8M115 280q8 0 8 8v30q0 5 6 5q-6 0-6 5v30q0 8-8 8"/>
<text class="n" x="74" y="313">21-19</text><text class="n" x="74" y="338">21-18</text>
<text class="n" x="12" y="320">2</text><text class="n" x="146" y="323">0</text>
</g>

<!-- Pool 18 -->
<g id="pool18" transform="translate(599,1644)">
<g id="team53"><rect class="bx" width="162" height="56"/><text class="sm" x="10" y="25" textLength="143">湘南ヴィンテージクラブ</text><text class="pf" x="81" y="51">（神奈川県）</text></g>
<g id="team54"><rect class="bx" x="-97" y="226" width="162" height="55"/><text class="nm" x="-92" y="251" textLength="154">P A L</text><text class="pf" x="-16" y="277">（静岡県）</text></g>
<g id="team55"><rect class="bx" x="97" y="226" width="162" height="55"/><text class="nm" x="141" y="251" textLength="76">七輪会G</text><text class="pf" x="178" y="277">（東京都）</text></g>
<g class="edges"><use href="#tri"/><use href="#rTL"/><use href="#rTR"/><use href="#rBr"/></g>
<text class="n" x="81" y="73">53</text><text class="n e" x="-4" y="205">54</text><text class="n s" x="165" y="205">55</text>
<text class="n e" x="37" y="149">H1</text><text class="n s" x="127" y="149">H3</text><text class="n" x="82" y="222">H5</text>
<text class="gl" x="84" y="171">18組</text>
<path class="br" d="M-82 74q-8 0-8 8v29.5q0 5-6 5q6 0 6 5v29.5q0 8 8 8M-7 74q8 0 8 8v29.5q0 5 6 5q-6 0-6 5v29.5q0 8-8 8"/>
<text class="n" x="-50" y="109">21-<tspan dx="9.7">4</tspan></text><text class="n" x="-50" y="134">21-11</text>
<text class="n" x="-115" y="121">2</text><text class="n" x="21" y="123">0</text>
<path class="br" d="M174 76q-8 0-8 8v30.5q0 5-6 5q6 0 6 5v30.5q0 8 8 8M249 76q8 0 8 8v30.5q0 5 6 5q-6 0-6 5v30.5q0 8-8 8"/>
<text class="n" x="206" y="111">21-10</text><text class="n" x="206" y="136">21-17</text>
<text class="n" x="142" y="125">2</text><text class="n" x="270" y="129">0</text>
<path class="br" d="M45 281q-8 0-8 8v30q0 5-6 5q6 0 6 5v30q0 8 8 8M119 281q8 0 8 8v30q0 5 6 5q-6 0-6 5v30q0 8-8 8"/>
<text class="n" x="76" y="316">21-13</text><text class="n" x="76" y="341">21-10</text>
<text class="n" x="14" y="330">2</text><text class="n" x="149" y="330">0</text>
</g>

<!-- Pool 19 -->
<g id="pool19" transform="translate(1035,1644)">
<g id="team56"><rect class="bx" width="162" height="56"/><text class="nm" x="3" y="26" textLength="156">とびうめ福岡</text><text class="pf" x="81" y="51">（福岡県）</text></g>
<g id="team57"><rect class="bx" x="-97" y="226" width="162" height="55"/><text class="nm" x="-94" y="251" textLength="71">TAKUMI</text><text class="nm" x="-10" y="251" textLength="73">クラブ</text><text class="pf" x="-16" y="277">（茨城県）</text></g>
<g id="team58"><rect class="bx" x="97" y="226" width="162" height="55"/><text class="sm" x="102" y="250" textLength="150">ヤングドリームV(若夢V)</text><text class="pf" x="178" y="277">（兵庫県）</text></g>
<g class="edges"><use href="#tri"/><use href="#rTL"/><use href="#rBR"/><use href="#rBr"/></g>
<text class="n" x="81" y="73">56</text><text class="n e" x="-4" y="205">57</text><text class="n s" x="165" y="205">58</text>
<text class="n e" x="37" y="149">H2</text><text class="n s" x="127" y="149">H4</text><text class="n" x="82" y="222">H6</text>
<text class="gl" x="84" y="171">19組</text>
<path class="br" d="M-92 75q-8 0-8 8v30q0 5-6 5q6 0 6 5v30q0 8 8 8M-20 75q8 0 8 8v30q0 5 6 5q-6 0-6 5v30q0 8-8 8"/>
<text class="n" x="-59" y="110">21-17</text><text class="n" x="-59" y="135">21-15</text>
<text class="n" x="-122" y="123">2</text><text class="n" x="13" y="126">0</text>
<path class="br" d="M178 73q-8 0-8 8v30q0 5-6 5q6 0 6 5v30q0 8 8 8M251 73q8 0 8 8v30q0 5 6 5q-6 0-6 5v30q0 8-8 8"/>
<text class="n" x="210" y="108">23-21</text><text class="n" x="210" y="133">21-11</text>
<text class="n" x="145" y="120">2</text><text class="n" x="282" y="123">0</text>
<path class="br" d="M43 281q-8 0-8 8v30q0 5-6 5q6 0 6 5v30q0 8 8 8M116 281q8 0 8 8v30q0 5 6 5q-6 0-6 5v30q0 8-8 8"/>
<text class="n" x="75" y="315">21-10</text><text class="n" x="75" y="340">21-14</text>
<text class="n" x="13" y="329">2</text><text class="n" x="148" y="330">0</text>
</g>
</svg>
